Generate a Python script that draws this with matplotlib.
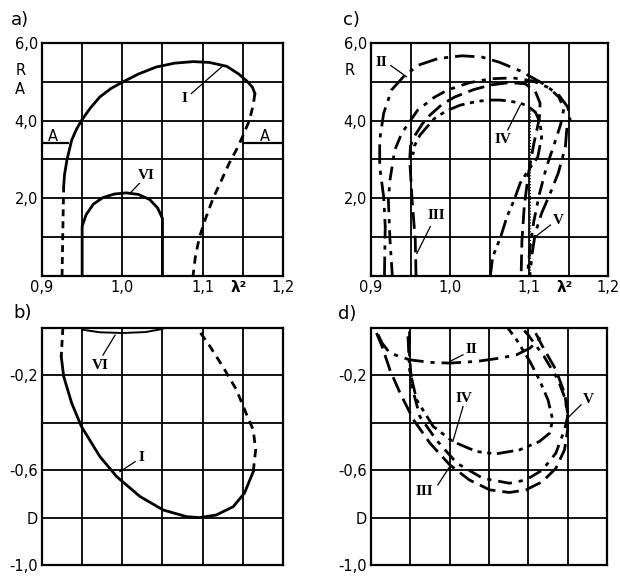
import matplotlib
matplotlib.use("Agg")
import matplotlib.pyplot as plt

# ---- panel a: R over lambda^2 -------------------------------------------
A_I_X = [0.927, 0.928, 0.931, 0.937, 0.943, 0.949, 0.960, 0.972, 0.986, 1.001,
         1.020, 1.042, 1.065, 1.088, 1.108, 1.130, 1.145, 1.155, 1.162, 1.165]
A_I_Y = [2.30, 2.60, 2.98, 3.50, 3.78, 4.00, 4.32, 4.61, 4.83, 5.00,
         5.20, 5.38, 5.48, 5.52, 5.50, 5.40, 5.20, 5.02, 4.86, 4.70]
A_I_LEFT_X = [0.925, 0.926, 0.927]
A_I_LEFT_Y = [0.0, 1.2, 2.3]
A_I_RIGHT_X = [1.165, 1.163, 1.158, 1.150, 1.142, 1.133, 1.122, 1.113, 1.104, 1.096, 1.091, 1.088]
A_I_RIGHT_Y = [4.70, 4.40, 4.00, 3.60, 3.25, 2.90, 2.40, 2.00, 1.50, 1.00, 0.50, 0.00]
A_VI_X = [0.950, 0.950, 0.955, 0.964, 0.976, 0.990, 1.005, 1.020, 1.034, 1.044, 1.050, 1.050]
A_VI_Y = [0.00, 1.28, 1.58, 1.85, 2.02, 2.11, 2.14, 2.10, 1.97, 1.75, 1.48, 0.00]
A_LEVEL = 3.42
A_LEVEL_LEFT = [0.900, 0.933]
A_LEVEL_RIGHT = [1.150, 1.200]

# ---- panel b: D over lambda^2 -------------------------------------------
B_I_X = [0.924, 0.927, 0.937, 0.949, 0.972, 0.993, 1.022, 1.051, 1.080, 1.096,
         1.117, 1.138, 1.152, 1.163]
B_I_Y = [-0.12, -0.204, -0.317, -0.415, -0.542, -0.627, -0.711, -0.768, -0.796, -0.800,
         -0.789, -0.754, -0.697, -0.606]
B_I_TOP_X = [0.926, 0.925, 0.924]
B_I_TOP_Y = [0.0, -0.06, -0.12]
B_I_RIGHT_X = [1.163, 1.166, 1.163, 1.154, 1.142, 1.125, 1.109, 1.096, 1.092]
B_I_RIGHT_Y = [-0.606, -0.514, -0.43, -0.359, -0.26, -0.162, -0.077, -0.014, 0.0]
B_VI_X = [0.950, 0.972, 1.000, 1.029, 1.050]
B_VI_Y = [-0.007, -0.018, -0.021, -0.017, -0.004]

# ---- panel c: R, curves II..V ------------------------------------------
C_II_X = [0.917, 0.918, 0.916, 0.911, 0.911, 0.916, 0.926, 0.941, 0.960, 0.985, 1.015,
          1.040, 1.063, 1.089, 1.118, 1.138, 1.149, 1.152, 1.148, 1.146, 1.137, 1.127,
          1.116, 1.108, 1.104, 1.101]
C_II_Y = [0.0, 1.27, 2.04, 2.81, 3.50, 4.19, 4.79, 5.13, 5.43, 5.60, 5.67,
          5.64, 5.50, 5.28, 4.95, 4.65, 4.35, 4.02, 3.84, 3.32, 2.65, 2.14,
          1.62, 1.11, 0.59, 0.0]
C_III_X = [0.957, 0.956, 0.952, 0.949, 0.950, 0.956, 0.965, 0.975, 0.990, 1.006, 1.030,
           1.052, 1.075, 1.095, 1.108, 1.114, 1.113, 1.106, 1.099, 1.094, 1.091, 1.090]
C_III_Y = [0.0, 0.93, 1.96, 2.99, 3.35, 3.63, 3.92, 4.15, 4.42, 4.61, 4.80,
           4.92, 4.98, 4.95, 4.75, 4.45, 4.05, 3.40, 2.60, 1.80, 0.90, 0.0]
C_IV_X = [1.051, 1.054, 1.064, 1.072, 1.081, 1.089, 1.100, 1.111, 1.116, 1.114, 1.108,
          1.098, 1.089, 1.076, 1.063, 1.052, 1.035, 1.013, 0.995, 0.980, 0.962, 0.955, 0.953]
C_IV_Y = [0.0, 0.49, 1.00, 1.52, 1.95, 2.40, 2.75, 3.06, 3.58, 3.95, 4.22,
          4.38, 4.45, 4.50, 4.53, 4.53, 4.50, 4.40, 4.25, 4.05, 3.63, 3.35, 3.12]
C_V_X = [0.927, 0.924, 0.922, 0.924, 0.930, 0.939, 0.959, 0.980, 0.997, 1.025, 1.052,
         1.080, 1.105, 1.125, 1.138, 1.144, 1.140, 1.132, 1.122, 1.113, 1.106, 1.101, 1.098]
C_V_Y = [0.0, 0.93, 1.96, 2.47, 3.24, 3.68, 4.27, 4.60, 4.79, 4.98, 5.08,
         5.10, 5.02, 4.85, 4.60, 4.30, 3.90, 3.40, 2.80, 2.10, 1.40, 0.70, 0.0]
C_REF_X = [1.101, 1.101]
C_REF_Y = [0.0, 4.35]

# ---- panel d: D, curves II..V ------------------------------------------
D_II_X = [0.909, 0.914, 0.924, 0.949, 0.975, 1.000, 1.034, 1.064, 1.085, 1.102, 1.112, 1.118]
D_II_Y = [-0.028, -0.063, -0.106, -0.134, -0.145, -0.148, -0.141, -0.127, -0.113, -0.085, -0.055, -0.02]
D_III_X = [0.907, 0.914, 0.924, 0.937, 0.954, 0.975, 1.000, 1.025, 1.051, 1.076,
           1.097, 1.118, 1.135, 1.146, 1.150, 1.150, 1.146, 1.135, 1.118, 1.106]
D_III_Y = [-0.021, -0.077, -0.176, -0.275, -0.387, -0.486, -0.577, -0.641, -0.683, -0.694,
           -0.683, -0.648, -0.592, -0.514, -0.43, -0.359, -0.275, -0.176, -0.077, 0.0]
D_IV_X = [0.947, 0.949, 0.958, 0.979, 1.004, 1.034, 1.059, 1.089, 1.114, 1.127, 1.131,
          1.125, 1.114, 1.102, 1.085, 1.074]
D_IV_Y = [-0.035, -0.176, -0.303, -0.415, -0.479, -0.521, -0.531, -0.514, -0.479, -0.444, -0.387,
          -0.303, -0.218, -0.141, -0.049, 0.0]
D_V_X = [0.949, 0.949, 0.952, 0.962, 0.983, 1.009, 1.042, 1.076, 1.097, 1.118, 1.135,
         1.146, 1.150, 1.147, 1.138, 1.120, 1.100, 1.092]
D_V_Y = [-0.014, -0.12, -0.246, -0.373, -0.472, -0.57, -0.634, -0.655, -0.641, -0.599, -0.528,
         -0.43, -0.373, -0.30, -0.22, -0.12, -0.03, 0.0]

X_TICKS = [0.9, 0.95, 1.0, 1.05, 1.1, 1.15, 1.2]
X_LABELS = ["0,9", "", "1,0", "", "1,1", "", "1,2"]
R_TICKS = [0, 1, 2, 3, 4, 5, 6]
R_LABELS = ["", "", "2,0", "", "4,0", "", "6,0"]
D_TICKS = [-1.0, -0.8, -0.6, -0.4, -0.2, 0.0]
D_LABELS = ["-1,0", "D", "-0,6", "", "-0,2", ""]

LW = 2.0
SERIF = "Liberation Serif"
STY = {
    "II": dict(dashes=(7, 2.5, 1.5, 2.5)),
    "III": dict(dashes=(6, 2.5)),
    "IV": dict(dashes=(6, 2, 1.5, 2, 1.5, 2)),
    "V": dict(dashes=(5, 2.5, 1.5, 2.5)),
}


def frame(ax, yt, yl, ylim, xlab=True):
    ax.set_xlim(0.9, 1.2)
    ax.set_ylim(*ylim)
    ax.set_xticks(X_TICKS, X_LABELS if xlab else [""] * len(X_TICKS))
    ax.set_yticks(yt, yl)
    ax.tick_params(length=0, labelsize=10.5, pad=3)
    ax.grid(True, color="black", lw=1.3)
    for s in ax.spines.values():
        s.set_linewidth(1.6)
    ax.set_axisbelow(True)


def tag(ax, txt, xy, p0, p1, fs=11):
    ax.text(*xy, txt, family=SERIF, fontsize=fs, fontweight="bold",
            ha="center", va="center", zorder=5,
            bbox=dict(fc="white", ec="none", pad=0.5))
    ax.plot([p0[0], p1[0]], [p0[1], p1[1]], color="black", lw=0.9, zorder=4)


fig = plt.figure(figsize=(6.2, 5.77), dpi=100)
axa = fig.add_axes([0.0677, 0.5217, 0.3887, 0.4038])
axc = fig.add_axes([0.5984, 0.5217, 0.3823, 0.4038])
axb = fig.add_axes([0.0677, 0.0208, 0.3887, 0.4107])
axd = fig.add_axes([0.5984, 0.0208, 0.3806, 0.4107])

# a)
frame(axa, R_TICKS, R_LABELS, (0, 6))
axa.plot(A_I_X, A_I_Y, color="black", lw=LW)
axa.plot(A_I_LEFT_X, A_I_LEFT_Y, color="black", lw=LW, dashes=(2.5, 1.8))
axa.plot(A_I_RIGHT_X, A_I_RIGHT_Y, color="black", lw=LW, dashes=(3, 2.2))
axa.plot(A_VI_X, A_VI_Y, color="black", lw=LW)
axa.plot(A_LEVEL_LEFT, [A_LEVEL] * 2, color="black", lw=1.6)
axa.plot(A_LEVEL_RIGHT, [A_LEVEL] * 2, color="black", lw=1.6)
axa.text(0.913, 3.6, "A", fontsize=10.5, ha="center", va="center")
axa.text(1.178, 3.6, "A", fontsize=10.5, ha="center", va="center")
tag(axa, "I", (1.078, 4.58), (1.086, 4.70), (1.124, 5.39))
tag(axa, "VI", (1.030, 2.58), (1.022, 2.40), (1.010, 2.14))

# b)
frame(axb, D_TICKS, D_LABELS, (-1.0, 0.0), xlab=False)
axb.plot(B_I_X, B_I_Y, color="black", lw=LW)
axb.plot(B_I_TOP_X, B_I_TOP_Y, color="black", lw=LW, dashes=(2.5, 1.8))
axb.plot(B_I_RIGHT_X, B_I_RIGHT_Y, color="black", lw=LW, dashes=(3, 2.2))
axb.plot(B_VI_X, B_VI_Y, color="black", lw=1.4)
tag(axb, "I", (1.024, -0.545), (1.016, -0.564), (0.997, -0.606))
tag(axb, "VI", (0.972, -0.160), (0.976, -0.114), (0.991, -0.030))

# c)
frame(axc, R_TICKS, R_LABELS, (0, 6))
axc.plot(C_REF_X, C_REF_Y, color="black", lw=0.8, ls=":")
for name, xs, ys in [("II", C_II_X, C_II_Y), ("III", C_III_X, C_III_Y),
                     ("IV", C_IV_X, C_IV_Y), ("V", C_V_X, C_V_Y)]:
    axc.plot(xs, ys, color="black", lw=LW, **STY[name])
tag(axc, "II", (0.913, 5.50), (0.925, 5.42), (0.945, 5.13))
tag(axc, "IV", (1.067, 3.52), (1.073, 3.76), (1.089, 4.40))
tag(axc, "III", (0.983, 1.57), (0.975, 1.27), (0.958, 0.58))
tag(axc, "V", (1.137, 1.42), (1.127, 1.31), (1.108, 1.01))

# d)
frame(axd, D_TICKS, D_LABELS, (-1.0, 0.0), xlab=False)
for name, xs, ys in [("II", D_II_X, D_II_Y), ("III", D_III_X, D_III_Y),
                     ("IV", D_IV_X, D_IV_Y), ("V", D_V_X, D_V_Y)]:
    axd.plot(xs, ys, color="black", lw=LW, **STY[name])
tag(axd, "II", (1.028, -0.090), (1.017, -0.113), (1.000, -0.141))
tag(axd, "IV", (1.018, -0.296), (1.017, -0.331), (1.004, -0.479))
tag(axd, "III", (0.968, -0.690), (0.985, -0.662), (1.000, -0.585))
tag(axd, "V", (1.176, -0.303), (1.167, -0.324), (1.150, -0.380))

# lambda^2 label on the x axes, R / A on the y axes, panel letters
for ax in (axa, axc):
    ax.text(1.145, -0.05, "λ²", fontsize=11, fontweight="bold", ha="center", va="center",
            transform=ax.get_xaxis_transform(), clip_on=False)
    ax.text(-0.09, 0.88, "R", fontsize=10.5, ha="center", va="center",
            transform=ax.transAxes)
axa.text(-0.09, 0.80, "A", fontsize=10.5, ha="center", va="center", transform=axa.transAxes)
for ax, letter, x0, y0 in [(axa, "a)", -0.13, 1.10), (axb, "b)", -0.12, 1.065),
                           (axc, "c)", -0.12, 1.10), (axd, "d)", -0.14, 1.06)]:
    ax.text(x0, y0, letter, fontsize=13, ha="left", va="center",
            transform=ax.transAxes)

fig.savefig("out.png", dpi=100)
